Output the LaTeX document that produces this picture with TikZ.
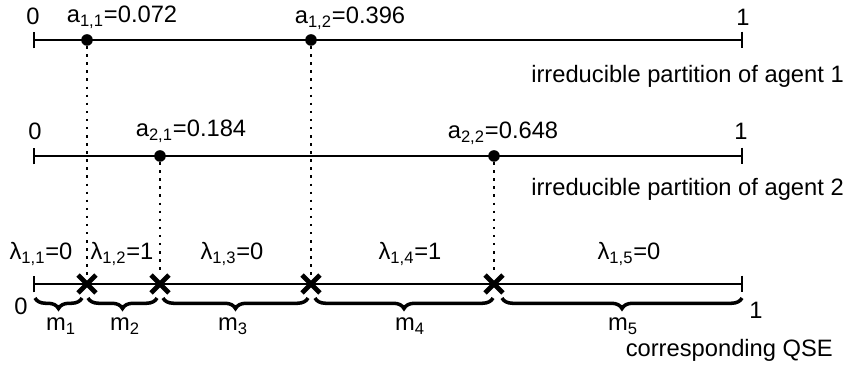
\documentclass[tikz,border=0pt]{standalone}
\usepackage{fontspec}
\setmainfont{Liberation Sans}
\usepackage{tikz}
\usetikzlibrary{arrows.meta,decorations.pathreplacing,shapes.misc}
\newcommand{\alab}[3]{a\textsubscript{#1,#2}=#3}
\newcommand{\lamlab}[2]{λ\textsubscript{1,#1}=#2}

\begin{document}
\begin{tikzpicture}[
  x=0.02cm, y=-0.02cm,
  font=\fontsize{13.5}{16}\selectfont,
  axis/.style={line width=1.1pt, {Bar[width=9.5pt]}-{Bar[width=9.5pt]}},
  dot/.style={circle, fill, inner sep=0pt, minimum size=6.6pt},
  crossmark/.style={cross out, draw, line width=2.8pt, minimum size=7.4pt, inner sep=0pt},
  guide/.style={line width=1.5pt, dash pattern=on 1.4pt off 3.2pt},
  brc/.style={decorate, decoration={brace, mirror, amplitude=6pt}, line width=2pt},
  note/.style={anchor=east}
]
\useasboundingbox (0,0) rectangle (853,374);
% agent 1
\coordinate (s1) at (33,40);
\coordinate (e1) at (743,40);
\draw[axis] (s1) -- (e1);
\node[dot] (a11) at (87,40) {};
\node[dot] (a12) at (311,40) {};
\node (z1) at (33,16) {0};
\node (o1) at (743,17) {1};
\node (t11) at (122,17) {\alab{1}{1}{0.072}};
\node (t12) at (350,18) {\alab{1}{2}{0.396}};
\node[note] (n1) at (850,76) {irreducible partition of agent 1};
% agent 2
\coordinate (s2) at (33,156);
\coordinate (e2) at (743,156);
\draw[axis] (s2) -- (e2);
\node[dot] (a21) at (160,156) {};
\node[dot] (a22) at (494,156) {};
\node (z2) at (35,131) {0};
\node (o2) at (741,131) {1};
\node (t21) at (191,131) {\alab{2}{1}{0.184}};
\node (t22) at (503,133) {\alab{2}{2}{0.648}};
\node[note] (n2) at (850,189) {irreducible partition of agent 2};
% QSE
\coordinate (s3) at (33,284);
\coordinate (e3) at (743,284);
\draw[axis] (s3) -- (e3);
\node[crossmark] (q1) at (87,284) {};
\node[crossmark] (q2) at (160,284) {};
\node[crossmark] (q3) at (311,284) {};
\node[crossmark] (q4) at (494,284) {};
\node (z3) at (21,306) {0};
\node (o3) at (756,310) {1};
\foreach \i/\x/\v in {1/41/0,2/122/1,3/232/0,4/410/1,5/629/0}{
  \node (l\i) at (\x,254) {\lamlab{\i}{\v}};
}
\draw[guide] (a11) -- (q1);
\draw[guide] (a12) -- (q3);
\draw[guide] (a21) -- (q2);
\draw[guide] (a22) -- (q4);
\foreach \i/\a/\b/\x in {1/35/82/61,2/88/157/125,3/163/308/233,4/315/493/410,5/502/742/623}{
  \draw[brc] (\a,298) -- (\b,298);
  \node (m\i) at (\x,326) {m\textsubscript{\i}};
}
\node[note] (n3) at (839,350) {corresponding QSE};
\end{tikzpicture}
\end{document}
